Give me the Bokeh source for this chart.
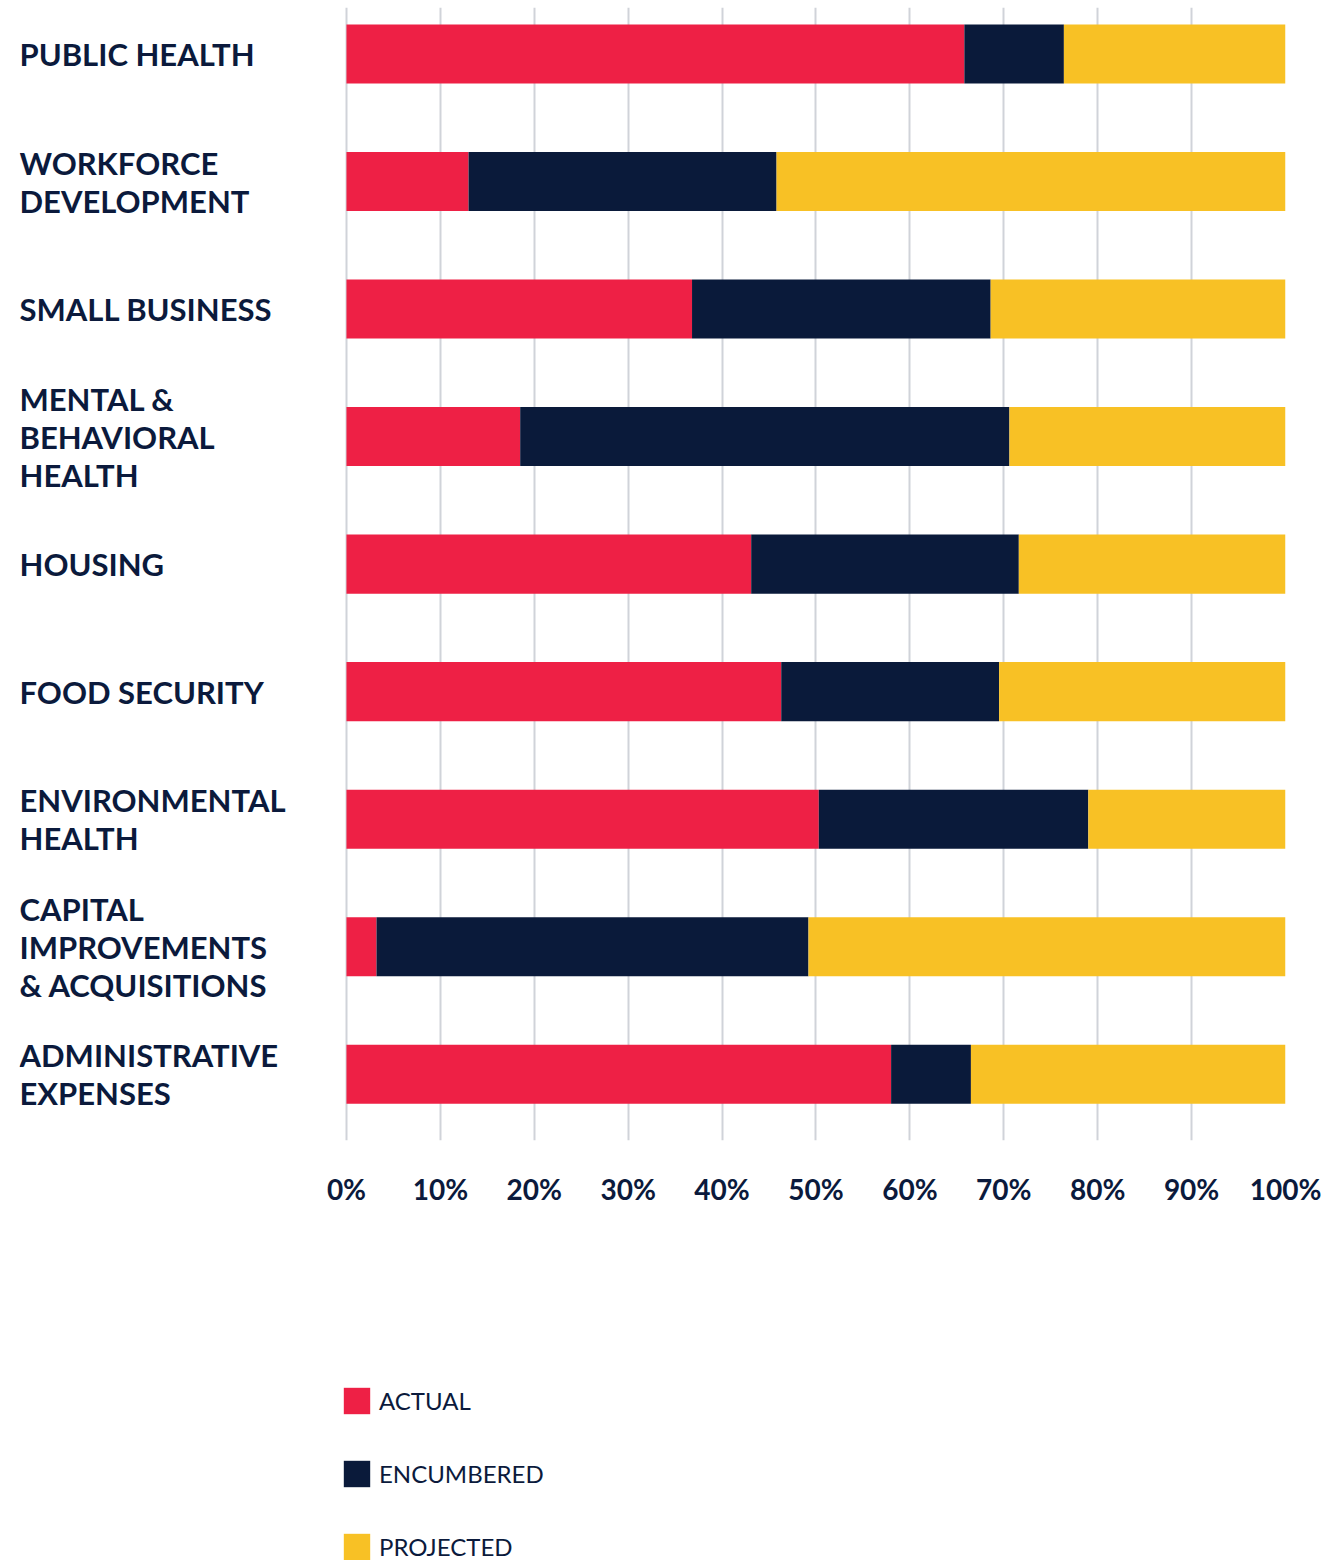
from bokeh.plotting import figure
from bokeh.layouts import column
from bokeh.models import ColumnDataSource, Range1d, FixedTicker, Legend, LegendItem
from bokeh.core.properties import value
from bokeh.embed import file_html
from bokeh.resources import INLINE

categories = [
    "PUBLIC HEALTH",
    "WORKFORCE\nDEVELOPMENT",
    "SMALL BUSINESS",
    "MENTAL &\nBEHAVIORAL\nHEALTH",
    "HOUSING",
    "FOOD SECURITY",
    "ENVIRONMENTAL\nHEALTH",
    "CAPITAL\nIMPROVEMENTS\n& ACQUISITIONS",
    "ADMINISTRATIVE\nEXPENSES",
]
actual = [65.8, 13.0, 36.8, 18.5, 43.1, 46.3, 50.3, 3.2, 58.0]
encumbered = [10.6, 32.8, 31.8, 52.1, 28.5, 23.2, 28.7, 46.0, 8.5]
projected = [23.6, 54.2, 31.4, 29.4, 28.4, 30.5, 21.0, 50.8, 33.5]
series_names = ["ACTUAL", "ENCUMBERED", "PROJECTED"]
tick_values = [0, 10, 20, 30, 40, 50, 60, 70, 80, 90, 100]
tick_labels = ["0%", "10%", "20%", "30%", "40%", "50%", "60%", "70%", "80%", "90%", "100%"]

RED = "#EE2045"
NAVY = "#0A1A3A"
YELLOW = "#F8C125"
TEXT = "#0B1A3C"
GRID = "#D0D3D9"
FONT = "Lato"
COLORS = [RED, NAVY, YELLOW]
FIELDS = ["actual", "encumbered", "projected"]

pos = list(range(len(categories)))
src = ColumnDataSource(dict(pos=pos, cat=categories, actual=actual,
                            encumbered=encumbered, projected=projected))

LABEL_X = -34.82
p = figure(
    frame_width=1266, frame_height=1133,
    x_range=Range1d(LABEL_X, 100),
    y_range=Range1d(len(categories) - 1 + 0.52, -0.365),
    y_axis_location=None,
    output_backend="svg", toolbar_location=None,
    min_border_left=19, min_border_right=44, min_border_top=7, min_border_bottom=80,
)
p.outline_line_color = None
p.background_fill_color = "white"
p.border_fill_color = "white"

p.hbar_stack(FIELDS, y="pos", height=0.463, color=COLORS, line_color=None, source=src)

p.text(x=LABEL_X, y="pos", text="cat", source=src,
       text_font=value(FONT), text_font_style="bold", text_font_size="31px",
       text_color=TEXT, text_align="left", text_baseline="middle",
       text_line_height=1.0)

xa = p.xaxis[0]
xa.ticker = FixedTicker(ticks=tick_values)
xa.major_label_overrides = {v: l for v, l in zip(tick_values, tick_labels)}
xa.axis_line_color = None
xa.major_tick_line_color = None
xa.minor_tick_line_color = None
xa.major_tick_out = 0
xa.major_tick_in = 0
xa.major_label_standoff = 31
xa.major_label_text_font = FONT
xa.major_label_text_font_style = "bold"
xa.major_label_text_font_size = "28px"
xa.major_label_text_color = TEXT

p.ygrid.visible = False
p.xgrid.ticker = FixedTicker(ticks=tick_values)
p.xgrid.grid_line_color = GRID
p.xgrid.grid_line_width = 2

# legend panel underneath
p2 = figure(
    width=1329, height=340,
    x_range=Range1d(0, 1), y_range=Range1d(-1000, -999),
    x_axis_location=None, y_axis_location=None,
    output_backend="svg", toolbar_location=None,
    min_border_left=19, min_border_right=44, min_border_top=0, min_border_bottom=0,
)
p2.outline_line_color = None
p2.xgrid.visible = False
p2.ygrid.visible = False
leg_renderers = p2.hbar_stack(FIELDS, y="pos", height=0.463, color=COLORS,
                              line_color=None, source=src)
for r in leg_renderers:
    r.visible = False

legend = Legend(
    items=[LegendItem(label=n, renderers=[r]) for n, r in zip(series_names, leg_renderers)],
    orientation="vertical",
    glyph_width=33, glyph_height=33, label_height=33,
    spacing=40, label_standoff=6,
    label_text_font=FONT, label_text_font_size="24px", label_text_color=TEXT,
    border_line_color=None, background_fill_alpha=0,
    padding=0, margin=0, location=(321, -3),
)
p2.add_layout(legend)

open("out.html", "w").write(file_html(column(p, p2, spacing=0), INLINE))
